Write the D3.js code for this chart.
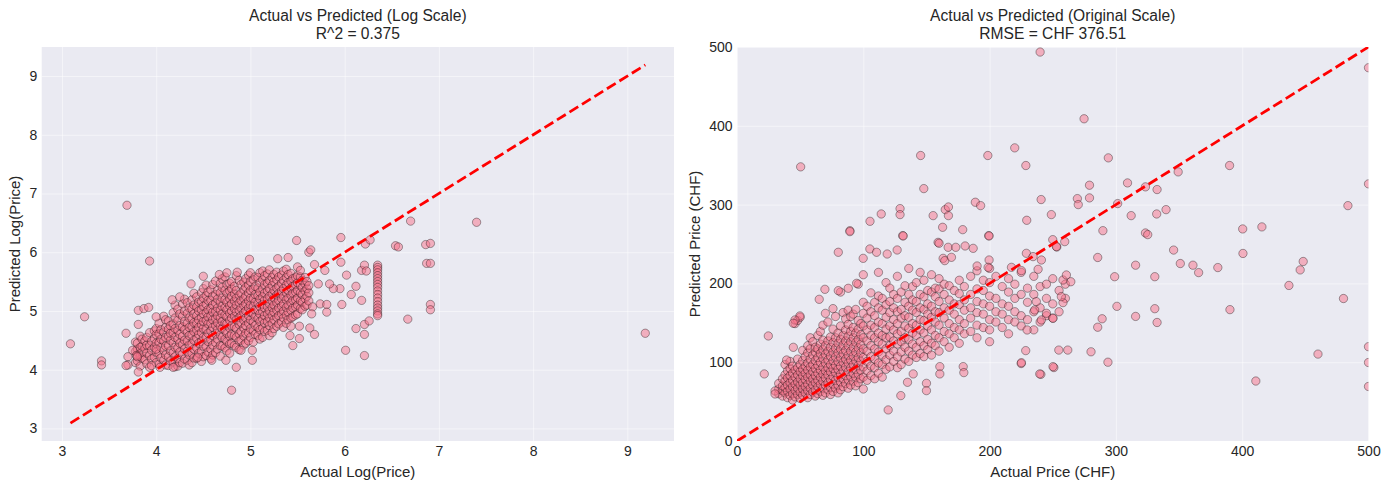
<!DOCTYPE html>
<html>
<head>
<meta charset="utf-8">
<script src="https://cdn.jsdelivr.net/npm/d3@7"></script>
<style>
  body { margin: 0; background: #fff; }
  text { font-family: "Liberation Sans", Arial, sans-serif; fill: #262626; }
</style>
</head>
<body>
<div id="chart"></div>
<script>
// ---- data ----
var logTicks = [3, 4, 5, 6, 7, 8, 9];
var chfTicks = [0, 100, 200, 300, 400, 500];
var logLine = [3.09, 9.19];
var chfLine = [0, 500];

// dense cloud, log scale: [actual, [predicted...]]
var logColumns = [
  [3.78, [4.12, 4.31, 4.47]],
  [3.80, [4.15, 4.25, 4.35, 4.45]],
  [3.83, [4.06, 4.23, 4.38, 4.57]],
  [3.85, [4.20, 4.30, 4.40, 4.52]],
  [3.88, [4.17, 4.36, 4.49]],
  [3.90, [4.10, 4.28, 4.42, 4.55]],
  [3.93, [4.04, 4.24, 4.41, 4.63]],
  [3.95, [4.18, 4.33, 4.48]],
  [3.98, [4.21, 4.38, 4.53, 4.66]],
  [4.00, [4.12, 4.30, 4.45, 4.60, 4.70]],
  [4.03, [4.09, 4.27, 4.46, 4.61, 4.79]],
  [4.05, [4.20, 4.38, 4.52, 4.68]],
  [4.08, [4.16, 4.33, 4.49, 4.64, 4.91]],
  [4.10, [4.08, 4.25, 4.40, 4.55, 4.72, 4.85]],
  [4.13, [4.07, 4.22, 4.41, 4.57, 4.69, 4.83]],
  [4.15, [4.15, 4.32, 4.50, 4.62, 4.75]],
  [4.18, [4.13, 4.29, 4.46, 4.63, 4.78, 4.97]],
  [4.20, [4.05, 4.22, 4.38, 4.55, 4.70, 4.88, 5.10]],
  [4.23, [4.06, 4.19, 4.37, 4.52, 4.67, 4.84, 5.03]],
  [4.25, [4.12, 4.30, 4.45, 4.60, 4.75, 4.95]],
  [4.28, [4.11, 4.27, 4.43, 4.57, 4.73, 4.91, 5.12]],
  [4.30, [4.18, 4.35, 4.50, 4.68, 4.82, 5.00, 5.20]],
  [4.33, [4.16, 4.31, 4.49, 4.64, 4.79, 4.96, 5.14]],
  [4.35, [4.08, 4.25, 4.42, 4.58, 4.72, 4.88, 5.05]],
  [4.38, [4.12, 4.28, 4.44, 4.59, 4.73, 4.87, 5.03, 5.19]],
  [4.40, [4.20, 4.35, 4.50, 4.65, 4.80, 4.95, 5.10, 5.30]],
  [4.43, [4.19, 4.37, 4.53, 4.67, 4.79, 4.92, 5.07, 5.24]],
  [4.45, [4.28, 4.45, 4.60, 4.72, 4.85, 5.00, 5.15]],
  [4.48, [4.14, 4.31, 4.48, 4.63, 4.77, 4.89, 5.02, 5.16, 5.31]],
  [4.50, [4.22, 4.40, 4.55, 4.70, 4.82, 4.95, 5.08, 5.22, 5.38]],
  [4.53, [4.24, 4.39, 4.55, 4.69, 4.84, 4.97, 5.11, 5.26, 5.44]],
  [4.55, [4.30, 4.48, 4.62, 4.78, 4.90, 5.02, 5.18, 5.32]],
  [4.58, [4.19, 4.35, 4.51, 4.66, 4.79, 4.92, 5.04, 5.18, 5.36]],
  [4.60, [4.25, 4.42, 4.58, 4.72, 4.85, 4.98, 5.10, 5.25, 5.45]],
  [4.63, [4.29, 4.46, 4.61, 4.75, 4.87, 4.99, 5.13, 5.28, 5.51]],
  [4.65, [4.35, 4.52, 4.68, 4.80, 4.92, 5.05, 5.20, 5.35]],
  [4.68, [4.23, 4.41, 4.59, 4.74, 4.88, 5.01, 5.15, 5.31, 5.47]],
  [4.70, [4.40, 4.55, 4.70, 4.82, 4.95, 5.08, 5.22, 5.40, 5.55]],
  [4.73, [4.37, 4.52, 4.67, 4.79, 4.93, 5.06, 5.19, 5.35, 5.58]],
  [4.75, [4.32, 4.48, 4.62, 4.78, 4.90, 5.02, 5.15, 5.30, 5.45]],
  [4.78, [4.28, 4.44, 4.57, 4.71, 4.84, 4.96, 5.09, 5.21, 5.34, 5.47]],
  [4.80, [4.45, 4.60, 4.75, 4.88, 5.00, 5.12, 5.25, 5.38, 5.50]],
  [4.83, [4.41, 4.58, 4.73, 4.91, 5.04, 5.17, 5.29, 5.42]],
  [4.85, [4.38, 4.55, 4.70, 4.85, 4.98, 5.10, 5.22, 5.35, 5.60]],
  [4.88, [4.34, 4.49, 4.61, 4.77, 4.89, 5.01, 5.14, 5.27, 5.52]],
  [4.90, [4.50, 4.65, 4.80, 4.92, 5.05, 5.18, 5.30, 5.45]],
  [4.93, [4.42, 4.57, 4.71, 4.84, 4.97, 5.09, 5.21, 5.36, 5.49]],
  [4.95, [4.45, 4.62, 4.75, 4.88, 5.00, 5.12, 5.25, 5.40, 5.55]],
  [4.98, [4.49, 4.63, 4.79, 4.92, 5.05, 5.17, 5.31, 5.44, 5.61]],
  [5.00, [4.55, 4.70, 4.85, 4.98, 5.10, 5.22, 5.35, 5.50, 5.65]],
  [5.03, [4.47, 4.66, 4.81, 4.95, 5.08, 5.21, 5.37, 5.53]],
  [5.05, [4.60, 4.75, 4.90, 5.02, 5.15, 5.28, 5.42, 5.58]],
  [5.08, [4.58, 4.72, 4.87, 5.01, 5.13, 5.26, 5.39, 5.57]],
  [5.10, [4.52, 4.68, 4.82, 4.95, 5.08, 5.20, 5.32, 5.48, 5.65]],
  [5.13, [4.55, 4.71, 4.86, 4.99, 5.11, 5.24, 5.38, 5.53, 5.68]],
  [5.15, [4.65, 4.80, 4.92, 5.05, 5.18, 5.30, 5.45, 5.60]],
  [5.18, [4.67, 4.82, 4.95, 5.07, 5.21, 5.34, 5.47, 5.63]],
  [5.20, [4.58, 4.75, 4.88, 5.00, 5.12, 5.25, 5.38, 5.52, 5.70]],
  [5.23, [4.63, 4.79, 4.93, 5.06, 5.17, 5.29, 5.43, 5.57]],
  [5.25, [4.70, 4.85, 4.98, 5.10, 5.22, 5.35, 5.50, 5.62]],
  [5.28, [4.74, 4.89, 5.01, 5.14, 5.27, 5.39, 5.53, 5.66]],
  [5.30, [4.78, 4.92, 5.05, 5.18, 5.30, 5.42, 5.58]],
  [5.33, [4.81, 4.95, 5.08, 5.21, 5.34, 5.47, 5.61]],
  [5.35, [4.72, 4.88, 5.00, 5.12, 5.25, 5.38, 5.52, 5.68]],
  [5.38, [4.79, 4.93, 5.06, 5.19, 5.31, 5.44, 5.57, 5.71]],
  [5.40, [4.85, 4.98, 5.10, 5.22, 5.35, 5.48, 5.62]],
  [5.43, [4.88, 5.01, 5.14, 5.27, 5.39, 5.51, 5.64]],
  [5.45, [4.90, 5.05, 5.18, 5.30, 5.42, 5.55]],
  [5.48, [4.93, 5.07, 5.19, 5.32, 5.45, 5.57]],
  [5.50, [4.95, 5.10, 5.22, 5.35, 5.48, 5.60, 5.75]],
  [5.53, [5.04, 5.17, 5.31, 5.44, 5.58, 5.69]],
  [5.55, [5.02, 5.15, 5.28, 5.40, 5.52]],
  [5.58, [5.08, 5.21, 5.34, 5.46, 5.57]],
  [5.60, [5.10, 5.25, 5.38, 5.50]],
  [5.62, [5.17, 5.31, 5.43]],
  [6.35, [5.78, 5.74, 5.70, 5.65, 5.60, 5.55, 5.50, 5.45, 5.40, 5.34, 5.28, 5.22, 5.16, 5.10, 5.05, 5.00, 4.95, 4.92]]
];

// scattered points, log scale: [actual, predicted]
var logExtra = [
  [3.09, 4.44], [3.24, 4.90], [3.42, 4.15], [3.42, 4.08], [3.68, 4.62], [3.70, 4.22],
  [3.70, 4.08], [3.69, 6.80], [3.75, 4.33], [3.79, 4.24], [3.81, 3.96], [3.81, 4.77],
  [3.81, 5.01], [3.87, 5.04], [3.92, 5.06], [3.93, 5.85], [4.00, 4.90], [4.04, 4.04],
  [3.95, 4.07], [4.18, 4.04], [4.17, 5.19], [4.25, 5.24], [4.37, 5.46], [4.44, 4.21],
  [4.50, 5.59], [4.59, 4.16], [4.67, 5.62], [4.74, 4.16], [4.75, 5.65], [4.80, 3.65],
  [4.85, 4.04], [4.86, 5.66], [4.90, 4.33], [4.99, 5.88], [5.02, 4.33], [5.02, 4.16],
  [5.29, 5.89], [5.40, 5.91], [5.49, 6.20], [5.62, 6.00], [5.64, 6.04], [5.68, 5.79],
  [5.79, 5.69], [5.96, 5.83], [5.96, 6.25], [6.02, 5.61], [6.18, 5.69], [6.21, 5.78],
  [6.23, 5.68], [6.22, 6.14], [6.27, 6.21], [6.54, 6.11], [6.57, 6.09], [6.70, 6.53],
  [6.86, 6.13], [6.91, 6.15], [6.87, 5.81], [6.91, 5.81], [6.91, 5.11], [6.91, 5.02],
  [6.67, 4.86], [7.40, 6.51], [9.19, 4.62],
  [5.72, 5.46], [5.74, 5.12], [5.81, 5.11], [5.81, 4.98], [5.66, 5.07], [5.65, 4.95],
  [5.97, 5.11], [6.07, 5.28], [6.12, 5.42], [6.18, 5.18], [5.95, 5.38], [5.88, 5.38],
  [5.84, 5.46], [5.43, 4.74], [5.52, 4.74], [5.63, 4.71], [5.68, 4.60], [5.42, 4.58],
  [5.52, 4.53], [5.45, 4.41], [6.12, 4.70], [6.21, 4.77], [6.26, 4.83], [6.21, 4.60],
  [6.01, 4.33], [6.21, 4.24], [3.68, 4.07], [3.80, 4.22], [4.00, 4.35]
];

// dense cloud, original scale (CHF): [actual, [predicted...]]
var chfColumns = [
  [33, [60, 66, 73]],
  [36, [57, 64, 70, 79]],
  [38, [61, 68, 76, 84, 97]],
  [40, [55, 63, 71, 80, 89]],
  [42, [58, 66, 74, 83, 92, 101]],
  [44, [52, 60, 69, 77, 86, 95]],
  [46, [56, 64, 72, 81, 90, 149]],
  [48, [59, 67, 75, 84, 93, 104, 153]],
  [50, [54, 62, 71, 79, 88, 97, 157]],
  [52, [58, 66, 74, 83, 91, 102, 115]],
  [54, [61, 69, 78, 86, 95, 107]],
  [56, [55, 64, 72, 81, 90, 99, 112, 121]],
  [58, [59, 67, 76, 84, 94, 104, 117, 131]],
  [60, [62, 71, 79, 88, 97, 109, 126]],
  [62, [57, 65, 74, 83, 92, 102, 113, 119]],
  [64, [60, 69, 77, 86, 96, 106, 117, 134]],
  [66, [63, 72, 81, 90, 100, 111, 123, 139]],
  [68, [58, 67, 76, 85, 94, 105, 116, 128, 147]],
  [70, [61, 71, 80, 89, 99, 110, 121, 162]],
  [72, [65, 74, 84, 93, 103, 114, 127, 151]],
  [74, [59, 68, 78, 88, 97, 108, 119, 132]],
  [76, [63, 72, 82, 92, 102, 113, 125, 142, 168]],
  [78, [67, 77, 87, 96, 107, 118, 131, 158]],
  [80, [61, 71, 81, 91, 101, 112, 124, 137]],
  [82, [65, 75, 85, 95, 106, 117, 129, 146, 189]],
  [84, [69, 79, 89, 100, 111, 122, 134, 163]],
  [86, [73, 83, 94, 104, 115, 127, 141, 155]],
  [88, [67, 78, 88, 99, 109, 121, 133, 148, 166]],
  [90, [71, 82, 93, 103, 114, 126, 139, 158]],
  [92, [76, 86, 97, 108, 119, 131, 144, 161]],
  [94, [70, 81, 91, 102, 113, 125, 137, 167]],
  [96, [74, 85, 96, 106, 118, 129, 142, 153, 199]],
  [98, [79, 90, 101, 112, 123, 135, 149]],
  [100, [66, 81, 94, 106, 117, 131, 146, 162, 176, 211]],
  [103, [77, 89, 101, 114, 127, 141, 156, 171]],
  [106, [83, 95, 107, 121, 134, 147, 164, 188]],
  [109, [79, 93, 104, 117, 131, 144, 159, 176]],
  [112, [86, 99, 113, 126, 137, 151, 169, 184, 214]],
  [115, [81, 97, 109, 123, 134, 149, 166, 181]],
  [118, [91, 103, 117, 131, 142, 157, 173, 201]],
  [121, [94, 109, 121, 132, 146, 163, 177, 194]],
  [124, [101, 114, 127, 141, 154, 169, 186]],
  [127, [93, 107, 123, 136, 149, 164, 181, 209]],
  [130, [97, 113, 126, 139, 156, 167, 189]],
  [133, [104, 119, 131, 146, 159, 176, 197]],
  [136, [101, 114, 129, 143, 157, 171, 186, 219]],
  [139, [109, 123, 137, 149, 166, 179, 196]],
  [142, [106, 119, 134, 147, 163, 177, 201]],
  [145, [111, 126, 141, 154, 169, 186, 214]],
  [148, [107, 121, 137, 153, 167, 183, 204]],
  [151, [116, 129, 146, 161, 174, 191]],
  [154, [109, 124, 141, 157, 171, 189, 211]],
  [157, [121, 134, 151, 164, 183, 194]],
  [160, [114, 131, 147, 163, 177, 193, 206]],
  [164, [126, 139, 156, 169, 186, 199]],
  [168, [119, 136, 149, 166, 179, 197]],
  [172, [131, 144, 161, 174, 191]],
  [176, [124, 141, 154, 173, 187, 204]],
  [180, [136, 149, 166, 179, 196]],
  [185, [139, 156, 169, 186, 209]],
  [190, [131, 147, 163, 177, 193, 216]],
  [195, [144, 161, 174, 191, 204]],
  [200, [126, 141, 154, 171, 184, 201, 219]],
  [205, [151, 164, 181, 209]],
  [210, [144, 161, 174, 196]],
  [215, [136, 154, 171, 189, 206]],
  [220, [151, 164, 181, 199]],
  [225, [146, 159, 186, 214]],
  [230, [154, 176, 194]],
  [235, [141, 164, 186, 209]],
  [240, [151, 169, 196]],
  [245, [159, 181, 199]],
  [250, [156, 174, 206]],
  [255, [164, 191]],
  [260, [181, 199]]
];

// scattered points, original scale (CHF): [actual, predicted]
var chfExtra = [
  [50.4, 347.9], [240, 493.6], [274.8, 408.9], [500, 473.7], [500, 326.3], [483.7, 298.7],
  [145.4, 362.3], [198.6, 362.3], [219.9, 372], [228.7, 349.6], [294, 359.3], [390, 349.6],
  [349.3, 341.5], [309.2, 327.5], [323.4, 322.5], [332.6, 319.1], [147.9, 320.3], [89.4, 266.9],
  [114.2, 288.1], [105.3, 278.8], [129.1, 294.9], [129.1, 287.3], [131.2, 260.6], [155.3, 286],
  [162.8, 271.2], [164.9, 293.6], [167.4, 297], [167.4, 286], [178.7, 268.2], [188.7, 303],
  [192.9, 298.7], [199.3, 260.6], [159.2, 252.1], [240.8, 306.4], [248.9, 287.3], [229.4, 280.1],
  [269.5, 307.6], [270.2, 300], [279.1, 324.6], [279.1, 308.5], [301.4, 301.3], [312.1, 286],
  [323.4, 264], [325.2, 261.9], [332.3, 288.1], [339.7, 293.6], [289.7, 266.9], [400.4, 269.1],
  [415.6, 271.7], [250, 255.5], [253.2, 246.2],
  [285.6, 232.9], [345.7, 242.3], [400.6, 238], [448.3, 227.8], [437, 197.4], [445.9, 217.1],
  [480.2, 180.8], [390.3, 166.7], [380.7, 220.1], [365.5, 213.7], [361, 223.1], [351, 225.2],
  [330.8, 208.5], [330.8, 167.9], [332.6, 150.4], [299, 208.5], [300.8, 170.9], [315.6, 223.1],
  [315.6, 158.1], [285.6, 144.4], [289.1, 155.1], [280.3, 113.2], [293.7, 100], [410.8, 76.1],
  [460, 110.3], [500, 119.7], [500, 99.6], [500, 69.2], [225, 98.3], [240.6, 84.6],
  [250.9, 93.2], [254.8, 115.4], [261.9, 115.4], [264.3, 202.1],
  [89.4, 265.7], [131.6, 260.2], [199.6, 260.2], [80.2, 239.5], [105.2, 243.7], [110.5, 239.5],
  [118.9, 237.3], [126.8, 242.4], [99.9, 231.8], [160, 250.9], [167.2, 245.8], [173.2, 245.8],
  [180.6, 247.5], [187, 244.5], [163.2, 231.8], [164.5, 228.9], [169.8, 233.1], [199.6, 229.7],
  [198.8, 220.4], [190.1, 222.1], [24.8, 133.3], [21.6, 85.1], [30.1, 63.5], [30.1, 59.7],
  [39.3, 102.8], [44.6, 118.9], [49.8, 158.7], [45.9, 153.6], [44.6, 149.4], [119.7, 39.4],
  [129.7, 57.6], [135, 74.5], [139.5, 85.1], [150, 73.2], [150, 63.9], [160.6, 94.4],
  [160.6, 85.1], [179.1, 94.4], [179.6, 86.8], [228.6, 114.7], [225.2, 99.4], [239.7, 85.1],
  [250.2, 94.4], [229.7, 140.9], [237, 176.9], [235.7, 166.3], [241, 153.6], [245, 162.1],
  [250.2, 155.7], [258.1, 175.6], [256.8, 183.2], [258.1, 204.3], [260.8, 210.7], [252.9, 246.7],
  [259.5, 253], [229.1, 238.2], [234.4, 234], [238.4, 217.9], [241, 229.7], [225.2, 216.2],
  [217.3, 220.4], [65.1, 179.8], [69.6, 192.5], [80.2, 190.8], [88.1, 193.8], [94.7, 200.1]
];

function flatten(cols) {
  var out = [];
  cols.forEach(function (c) {
    c[1].forEach(function (y) { out.push([c[0], y]); });
  });
  return out;
}

var width = 1390, height = 489;
var plotTop = 47, plotBottom = 441;

var panels = [
  {
    title: ["Actual vs Predicted (Log Scale)", "R^2 = 0.375"],
    xlabel: "Actual Log(Price)", ylabel: "Predicted Log(Price)",
    left: 41.7, right: 674, domain: [2.785, 9.495],
    ticks: logTicks, line: logLine, ylabelX: 20,
    points: flatten(logColumns).concat(logExtra)
  },
  {
    title: ["Actual vs Predicted (Original Scale)", "RMSE = CHF 376.51"],
    xlabel: "Actual Price (CHF)", ylabel: "Predicted Price (CHF)",
    left: 737, right: 1368.5, domain: [0, 500],
    ticks: chfTicks, line: chfLine, ylabelX: 700,
    points: flatten(chfColumns).concat(chfExtra)
  }
];

var svg = d3.select("#chart")
  .append("svg")
  .attr("width", width)
  .attr("height", height);

panels.forEach(function (p, i) {
  var x = d3.scaleLinear().domain(p.domain).range([p.left, p.right]);
  var y = d3.scaleLinear().domain(p.domain).range([plotBottom, plotTop]);
  var g = svg.append("g");

  g.append("rect")
    .attr("x", p.left).attr("y", plotTop)
    .attr("width", p.right - p.left).attr("height", plotBottom - plotTop)
    .attr("fill", "#eaeaf2");

  g.append("clipPath").attr("id", "clip" + i)
    .append("rect")
    .attr("x", p.left).attr("y", plotTop)
    .attr("width", p.right - p.left).attr("height", plotBottom - plotTop);

  // grid
  g.append("g")
    .attr("transform", "translate(0," + plotBottom + ")")
    .call(d3.axisBottom(x).tickValues(p.ticks).tickSize(-(plotBottom - plotTop)).tickFormat(""))
    .call(function (a) { a.select(".domain").remove(); })
    .selectAll("line").attr("stroke", "#fff").attr("stroke-opacity", 0.5);
  g.append("g")
    .attr("transform", "translate(" + p.left + ",0)")
    .call(d3.axisLeft(y).tickValues(p.ticks).tickSize(-(p.right - p.left)).tickFormat(""))
    .call(function (a) { a.select(".domain").remove(); })
    .selectAll("line").attr("stroke", "#fff").attr("stroke-opacity", 0.5);

  var inner = g.append("g").attr("clip-path", "url(#clip" + i + ")");

  inner.selectAll("circle")
    .data(p.points)
    .enter()
    .append("circle")
    .attr("cx", function (d) { return x(d[0]); })
    .attr("cy", function (d) { return y(d[1]); })
    .attr("r", 4.17)
    .attr("fill", "#f77189")
    .attr("fill-opacity", 0.5)
    .attr("stroke", "#000")
    .attr("stroke-opacity", 0.5)
    .attr("stroke-width", 0.7);

  inner.append("line")
    .attr("x1", x(p.line[0])).attr("y1", y(p.line[0]))
    .attr("x2", x(p.line[1])).attr("y2", y(p.line[1]))
    .attr("stroke", "red")
    .attr("stroke-width", 2.78)
    .attr("stroke-dasharray", "10.3,4.4");

  // tick labels
  var fmt = d3.format("d");
  var xa = g.append("g")
    .attr("transform", "translate(0," + plotBottom + ")")
    .call(d3.axisBottom(x).tickValues(p.ticks).tickFormat(fmt).tickSize(0).tickPadding(5.5));
  var ya = g.append("g")
    .attr("transform", "translate(" + p.left + ",0)")
    .call(d3.axisLeft(y).tickValues(p.ticks).tickFormat(fmt).tickSize(0).tickPadding(4.5));
  [xa, ya].forEach(function (a) {
    a.select(".domain").remove();
    a.attr("font-family", null).attr("font-size", null);
    a.selectAll("text").style("font-size", "14px").attr("fill", "#262626");
  });

  // two-line title
  var cx = (p.left + p.right) / 2;
  g.append("text")
    .attr("x", cx).attr("y", 20.5)
    .attr("text-anchor", "middle")
    .style("font-size", "15.6px")
    .text(p.title[0]);
  g.append("text")
    .attr("x", cx).attr("y", 38.5)
    .attr("text-anchor", "middle")
    .style("font-size", "15.6px")
    .text(p.title[1]);

  g.append("text")
    .attr("x", cx).attr("y", 476.7)
    .attr("text-anchor", "middle")
    .style("font-size", "15px")
    .text(p.xlabel);

  g.append("text")
    .attr("transform", "translate(" + p.ylabelX + "," + ((plotTop + plotBottom) / 2) + ") rotate(-90)")
    .attr("text-anchor", "middle")
    .style("font-size", "15px")
    .text(p.ylabel);
});
</script>
</body>
</html>
